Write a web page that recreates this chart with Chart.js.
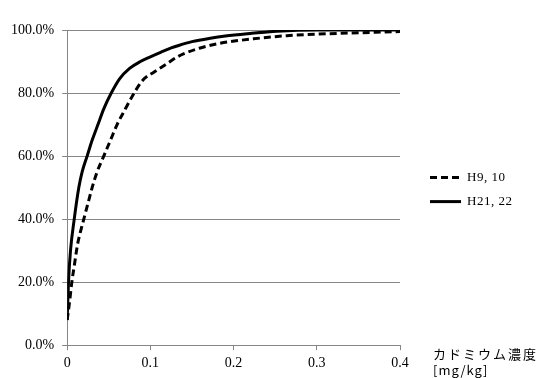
<!DOCTYPE html>
<html lang="ja">
<head>
    <meta charset="UTF-8">
    <title>カドミウム濃度 累積分布</title>
    <script src="https://cdn.jsdelivr.net/npm/chart.js"></script>
    <style>
        html, body {
            margin: 0;
            padding: 0;
            background: #fff;
        }

        .chart-box {
            width: 546px;
            height: 378px;
        }
    </style>
</head>
<body>
    <div class="chart-box">
        <canvas id="cdChart"></canvas>
    </div>

    <script>
        // data (x: mg/kg, y: cumulative %)
        const seriesNames = ['H9, 10', 'H21, 22'];

        const xH9 = [0, 0.003, 0.0056, 0.009, 0.0125, 0.016, 0.020, 0.025, 0.030, 0.036, 0.044, 0.052, 0.060, 0.070,
            0.080, 0.0906, 0.1046, 0.118, 0.1325, 0.1405, 0.160, 0.184, 0.224, 0.264, 0.324, 0.400];
        const yH9 = [8, 14, 20, 26, 32, 36, 40, 45, 50, 55, 60, 65, 70, 75,
            79.8, 84, 86.7, 89, 91.5, 92.5, 94.3, 95.8, 97.2, 98.2, 98.9, 99.5];

        const xH21 = [0, 0.0016, 0.004, 0.0085, 0.014, 0.018, 0.024, 0.030, 0.037, 0.044, 0.053, 0.063, 0.075, 0.088,
            0.100, 0.113, 0.125, 0.134, 0.150, 0.172, 0.190, 0.220, 0.252, 0.300, 0.350, 0.400];
        const yH21 = [8, 20, 30, 40, 50, 55, 60, 65, 70, 75, 80, 84.5, 87.8, 90,
            91.5, 93, 94.3, 95.1, 96.3, 97.4, 98.1, 98.9, 99.6, 100, 100, 100];

        const xTicks = [0, 0.1, 0.2, 0.3, 0.4];
        const yTicks = [0, 20, 40, 60, 80, 100];

        const axisTitle = ['カドミウム濃度', '[mg/kg]'];

        const gridGray = '#868686';
        const tickFont = { family: 'Liberation Serif', size: 14 };

        function toPoints(xs, ys) {
            return xs.map((x, i) => ({ x: x, y: ys[i] }));
        }

        // legend on the right and the axis title under it
        const sideText = {
            id: 'sideText',
            afterDraw(chart) {
                const ctx = chart.ctx;
                const area = chart.chartArea;
                const midY = (area.top + area.bottom) / 2;

                ctx.save();
                chart.data.datasets.forEach((ds, i) => {
                    const y = midY - 10 + i * 24;
                    ctx.strokeStyle = ds.borderColor;
                    ctx.lineWidth = ds.borderWidth;
                    ctx.setLineDash(ds.borderDash || []);
                    ctx.beginPath();
                    ctx.moveTo(area.right + 30, y);
                    ctx.lineTo(area.right + 61, y);
                    ctx.stroke();

                    ctx.setLineDash([]);
                    ctx.fillStyle = '#000';
                    ctx.font = '13px "Liberation Serif"';
                    ctx.textBaseline = 'middle';
                    ctx.textAlign = 'left';
                    ctx.letterSpacing = '0.5px';
                    ctx.fillText(ds.label, area.right + 67, y);
                });

                ctx.fillStyle = '#000';
                ctx.textBaseline = 'middle';
                ctx.font = '13px "Noto Sans CJK JP"';
                ctx.letterSpacing = '2px';
                ctx.fillText(axisTitle[0], area.right + 33, area.bottom + 9);
                ctx.letterSpacing = '1px';
                ctx.fillText(axisTitle[1], area.right + 33, area.bottom + 25);
                ctx.restore();
            }
        };

        const ctx = document.getElementById('cdChart').getContext('2d');
        const cdChart = new Chart(ctx, {
            type: 'line',
            data: {
                datasets: [{
                    label: seriesNames[0],
                    data: toPoints(xH9, yH9),
                    borderColor: '#000',
                    borderWidth: 3,
                    borderDash: [7, 4],
                    pointRadius: 0,
                    cubicInterpolationMode: 'monotone',
                    fill: false
                }, {
                    label: seriesNames[1],
                    data: toPoints(xH21, yH21),
                    borderColor: '#000',
                    borderWidth: 3,
                    pointRadius: 0,
                    cubicInterpolationMode: 'monotone',
                    fill: false
                }]
            },
            options: {
                responsive: true,
                maintainAspectRatio: false,
                animation: false,
                layout: {
                    padding: { left: 3, top: 30, right: 146, bottom: 1 }
                },
                plugins: {
                    legend: { display: false },
                    tooltip: { enabled: false }
                },
                scales: {
                    x: {
                        type: 'linear',
                        min: 0,
                        max: 0.4,
                        afterBuildTicks: axis => { axis.ticks = xTicks.map(v => ({ value: v })); },
                        grid: {
                            drawOnChartArea: false,
                            color: gridGray,
                            tickLength: 5
                        },
                        border: { color: gridGray },
                        ticks: {
                            font: tickFont,
                            color: '#000',
                            padding: 5,
                            maxRotation: 0,
                            callback: v => v === 0 ? '0' : v.toFixed(1)
                        }
                    },
                    y: {
                        min: 0,
                        max: 100,
                        afterBuildTicks: axis => { axis.ticks = yTicks.map(v => ({ value: v })); },
                        grid: {
                            color: gridGray,
                            tickLength: 5
                        },
                        border: { color: gridGray },
                        ticks: {
                            font: tickFont,
                            color: '#000',
                            padding: 8,
                            callback: v => v.toFixed(1) + '%'
                        }
                    }
                }
            },
            plugins: [sideText]
        });
    </script>
</body>
</html>
